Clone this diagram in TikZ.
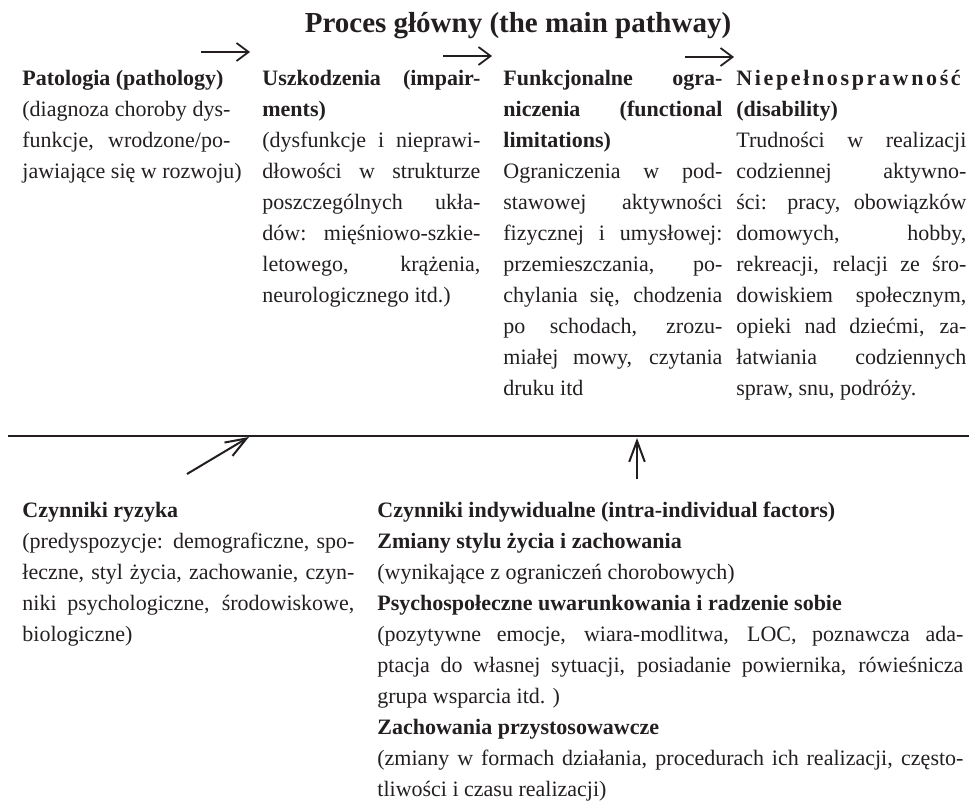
\documentclass[tikz,border=0pt]{standalone}
\usepackage{fontspec}
\setmainfont{Liberation Serif}
\usetikzlibrary{arrows.meta}
\definecolor{tusz}{HTML}{231F20}
\tolerance=10000
\hbadness=10000
\hfuzz=5pt
\hyphenpenalty=10000
\exhyphenpenalty=10000

\begin{document}
\begin{tikzpicture}[x=0.5pt, y=-0.5pt, color=tusz]
    % Definicje stylów
    \tikzstyle{tytul}=[font=\fontsize{14.5}{17}\selectfont\bfseries, inner sep=0pt, anchor=base]
    \tikzstyle{kolumna}=[anchor=north west, inner sep=0pt, align=justify, font=\fontsize{11}{15.5}\selectfont, execute at begin node={\parindent=0pt\strut}]
    \tikzstyle{proces}=[-{Straight Barb[length=6pt, width=9pt]}, line width=0.9pt]
    \tikzstyle{wplyw}=[-{Straight Barb[length=10.5pt, width=7.8pt]}, line width=1pt]
    \tikzstyle{linia}=[line width=1.25pt]

    \useasboundingbox (0,0) rectangle (969,808);

    % Tytuł
    \node[tytul] (tytul) at (518,33) {Proces główny (the main pathway)};

    % Kolumny procesu głównego
    \node[kolumna, text width=104pt] (patologia) at (22,63.3) {
        \textbf{Patologia (pathology)}\\
        (diagnoza choroby dys-\break funkcje, wrodzone/po-\break \mbox{jawiające się w rozwoju)}
    };
    \node[kolumna, text width=109pt] (uszkodzenia) at (262,63.3) {
        \textbf{Uszkodzenia (impair-\break ments)}\\
        (dysfunkcje i nieprawi-\break dłowości w strukturze\break poszczególnych ukła-\break dów: mięśniowo-szkie-\break letowego, krążenia,\break neurologicznego itd.)
    };
    \node[kolumna, text width=109.5pt] (ograniczenia) at (503,63.3) {
        \textbf{Funkcjonalne ogra-\break niczenia (functional\break limitations)}\\
        Ograniczenia w pod-\break stawowej aktywności\break fizycznej i umysłowej:\break przemieszczania, po-\break chylania się, chodzenia\break po schodach, zrozu-\break miałej mowy, czytania\break druku itd
    };
    \node[kolumna, text width=115pt] (niepelnosprawnosc) at (736,63.3) {
        \textbf{\addfontfeature{LetterSpace=12}Niepełnosprawność}\\
        \textbf{(disability)}\\
        Trudności w realizacji\break codziennej aktywno-\break ści: pracy, obowiązków\break domowych, hobby,\break rekreacji, relacji ze śro-\break dowiskiem społecznym,\break opieki nad dziećmi, za-\break łatwiania codziennych\break spraw, snu, podróży.
    };

    % Strzałki procesu głównego
    \coordinate (p1) at (201,52);  \coordinate (k1) at (250,52);
    \coordinate (p2) at (443,56);  \coordinate (k2) at (492,56);
    \coordinate (p3) at (685,57);  \coordinate (k3) at (734,57);
    \draw[proces] (p1) -- (k1);
    \draw[proces] (p2) -- (k2);
    \draw[proces] (p3) -- (k3);

    % Linia procesu
    \coordinate (linia_l) at (8,436);
    \coordinate (linia_p) at (969,436);
    \draw[linia] (linia_l) -- (linia_p);

    % Czynniki wpływające na proces
    \node[kolumna, text width=166pt] (ryzyko) at (22,495.3) {
        \textbf{Czynniki ryzyka}\\
        (predyspozycje: demograficzne, spo-\break łeczne, styl życia, zachowanie, czyn-\break niki psychologiczne, środowiskowe,\break biologiczne)
    };
    \node[kolumna, text width=293pt] (indywidualne) at (377,495.3) {
        \textbf{Czynniki indywidualne (intra-individual factors)}\\
        \textbf{Zmiany stylu życia i zachowania}\\
        (wynikające z ograniczeń chorobowych)\\
        \textbf{Psychospołeczne uwarunkowania i radzenie sobie}\\
        (pozytywne emocje, wiara-modlitwa, LOC, poznawcza ada-\break ptacja do własnej sytuacji, posiadanie powiernika, rówieśnicza\break grupa wsparcia itd. )\\
        \textbf{Zachowania przystosowawcze}\\
        (zmiany w formach działania, procedurach ich realizacji, często-\break tliwości i czasu realizacji)
    };

    % Strzałki wpływu
    \coordinate (ryzyko_p) at (187,474);  \coordinate (ryzyko_k) at (249,437);
    \coordinate (ind_p) at (637,479);     \coordinate (ind_k) at (637,438);
    \draw[wplyw] (ryzyko_p) -- (ryzyko_k);
    \draw[wplyw] (ind_p) -- (ind_k);
\end{tikzpicture}
\end{document}
